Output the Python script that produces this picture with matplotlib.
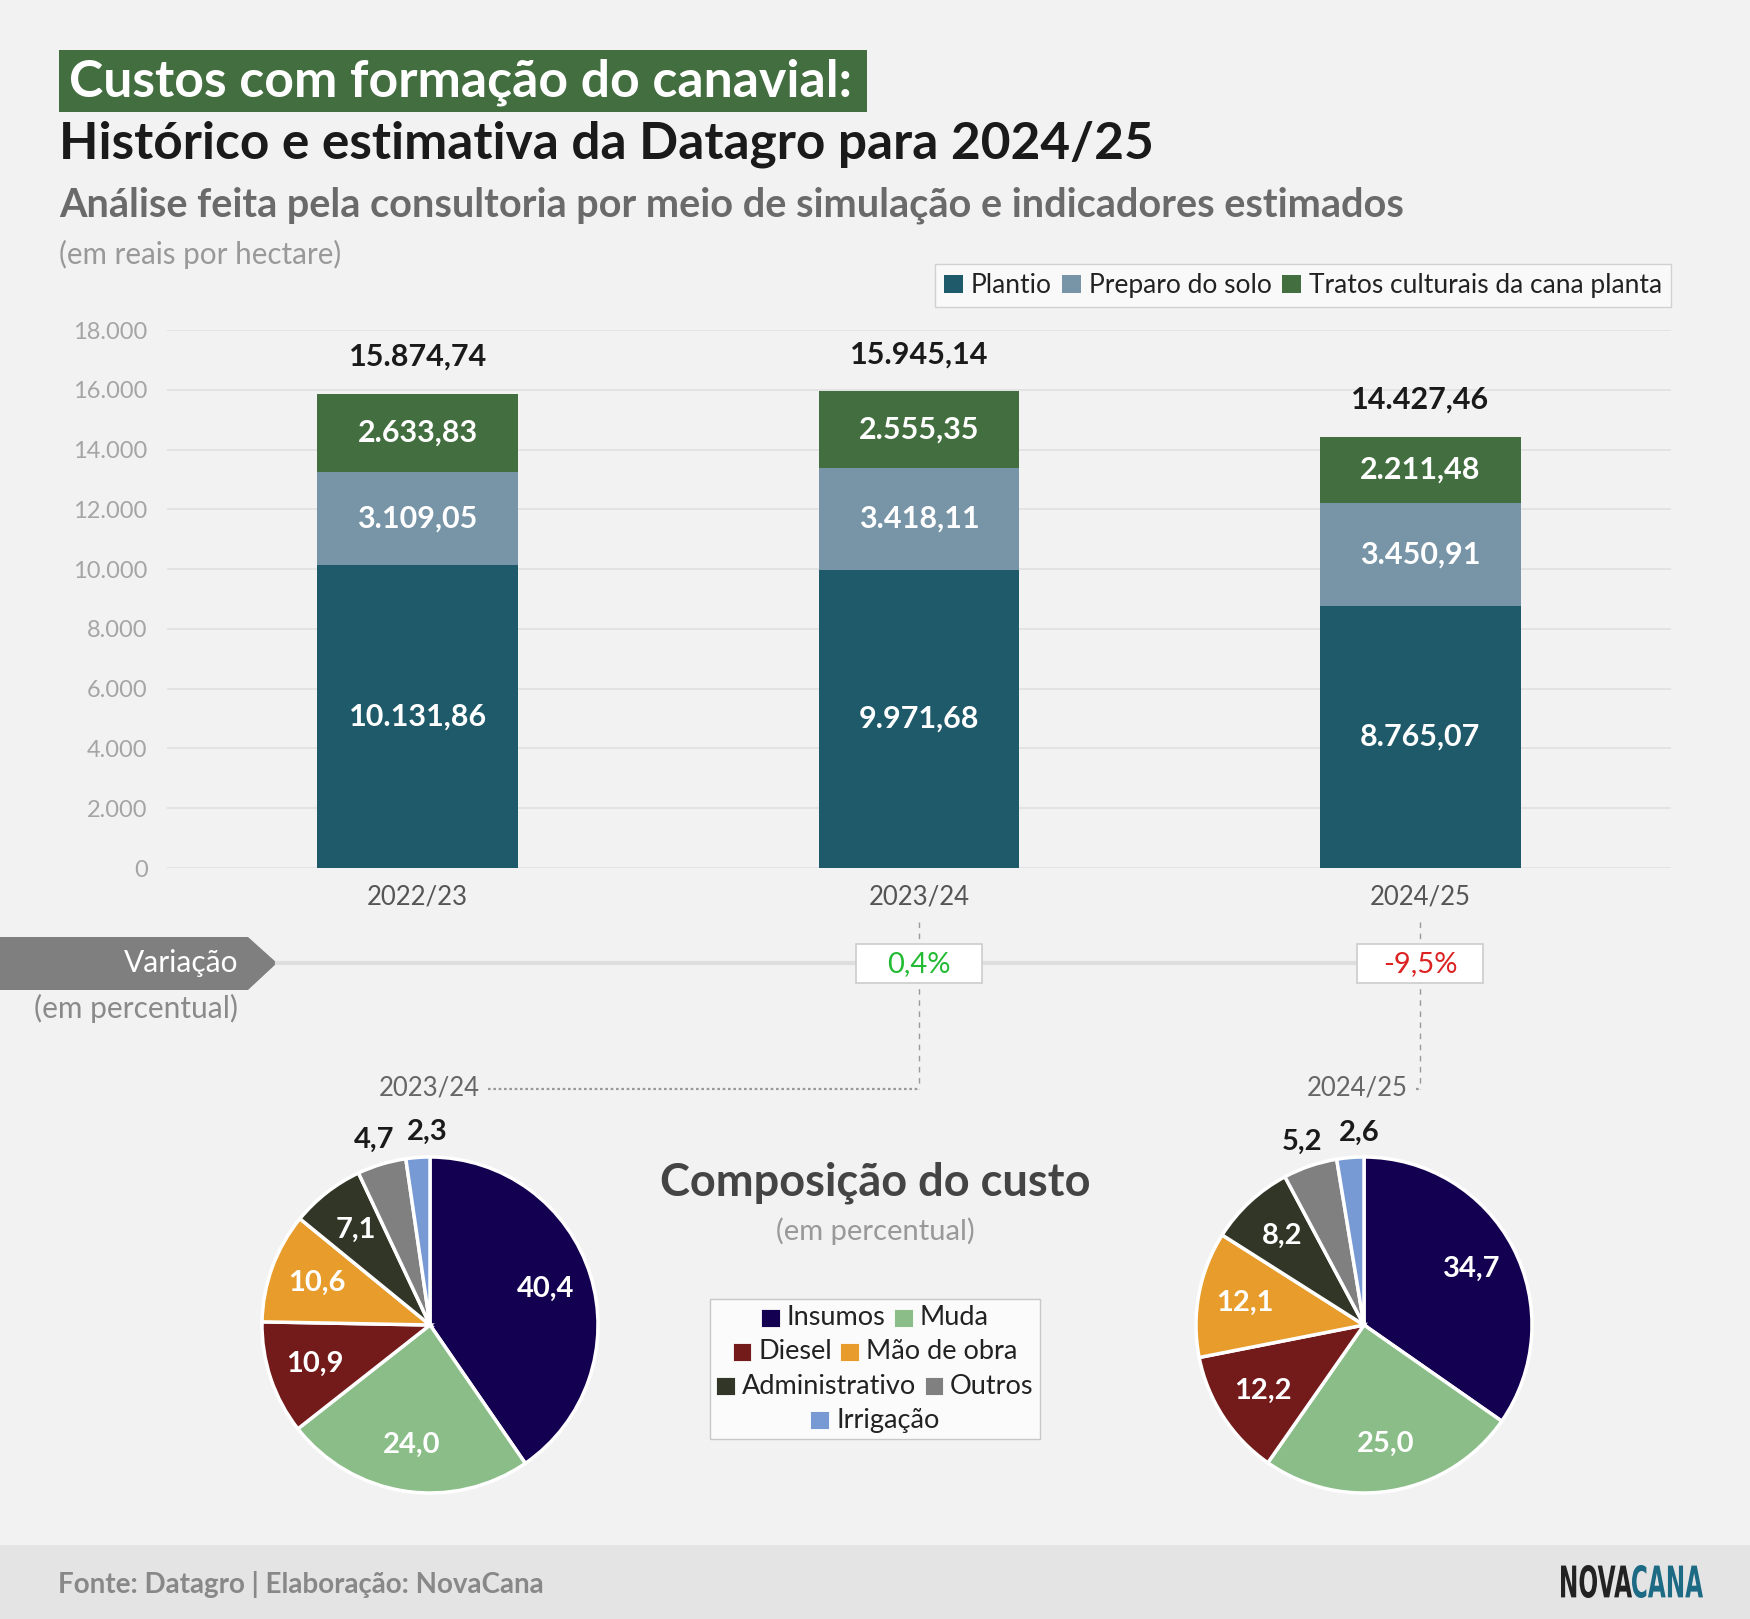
import math
import matplotlib
matplotlib.use("Agg")
import matplotlib.pyplot as plt
from matplotlib.patches import Rectangle, Polygon, PathPatch
from matplotlib.offsetbox import AnchoredOffsetbox, DrawingArea, HPacker, VPacker, TextArea
from matplotlib.textpath import TextPath
from matplotlib.font_manager import FontProperties
from matplotlib.transforms import Affine2D, IdentityTransform

plt.rcParams["font.family"] = ["Lato", "DejaVu Sans"]

W, H = 1750, 1619
BG = "#f2f2f2"

# --- dados: custos por hectare (R$) ---
SAFRAS = ["2022/23", "2023/24", "2024/25"]
PLANTIO = [10131.86, 9971.68, 8765.07]
PREPARO = [3109.05, 3418.11, 3450.91]
TRATOS = [2633.83, 2555.35, 2211.48]
TOTAIS = [15874.74, 15945.14, 14427.46]
VARIACAO = [None, 0.4, -9.5]
SERIES = ["Plantio", "Preparo do solo", "Tratos culturais da cana planta"]
SERIES_CORES = ["#1e5a6a", "#7895a8", "#436e3f"]
YTICKS = [0, 2000, 4000, 6000, 8000, 10000, 12000, 14000, 16000, 18000]

# --- composição do custo (%) ---
COMPONENTES = ["Insumos", "Muda", "Diesel", "Mão de obra", "Administrativo", "Outros", "Irrigação"]
COMP_CORES = ["#140050", "#8abd88", "#731a1a", "#e89c2c", "#323627", "#808080", "#7799d4"]
COMP_2324 = [40.4, 24.0, 10.9, 10.6, 7.1, 4.7, 2.3]
COMP_2425 = [34.7, 25.0, 12.2, 12.1, 8.2, 5.2, 2.6]


def br(v, nd=2):
    s = f"{v:,.{nd}f}"
    return s.replace(",", "X").replace(".", ",").replace("X", ".")


def fx(x):
    return x / W


def fy(y):
    return 1 - y / H


fig = plt.figure(figsize=(W / 100, H / 100), dpi=100, facecolor=BG)


def T(x, y, s, **kw):
    return fig.text(fx(x), fy(y), s, **kw)


# títulos
fig.add_artist(Rectangle((fx(59), fy(112)), fx(867 - 59), (112 - 50) / H,
                         transform=fig.transFigure, facecolor="#436e3f", edgecolor="none"))
T(69, 97, "Custos com formação do canavial:", fontsize=37.3, fontweight="bold",
  color="white", va="baseline")
T(59, 158, "Histórico e estimativa da Datagro para 2024/25", fontsize=37,
  fontweight="bold", color="#1a1a1a", va="baseline")
T(59, 217, "Análise feita pela consultoria por meio de simulação e indicadores estimados",
  fontsize=28.5, fontweight="bold", color="#6a6a6a", va="baseline")
T(59, 264, "(em reais por hectare)", fontsize=21.3, color="#999999", va="baseline")

# barras empilhadas
ax = fig.add_axes([fx(167), fy(868), fx(1671 - 167), (868 - 330) / H])
ax.set_facecolor("none")
x = list(range(len(SAFRAS)))
bottom2 = [a + b for a, b in zip(PLANTIO, PREPARO)]
layers = [(PLANTIO, [0, 0, 0]), (PREPARO, PLANTIO), (TRATOS, bottom2)]
for (vals, base), nome, cor in zip(layers, SERIES, SERIES_CORES):
    ax.bar(x, vals, bottom=base, width=0.4, color=cor, label=nome, zorder=3)
    for xi, v, b in zip(x, vals, base):
        ax.text(xi, b + v / 2, br(v), ha="center", va="center", color="white",
                fontsize=22, fontweight="bold", zorder=4)
for xi, tot in zip(x, TOTAIS):
    ax.annotate(br(tot), (xi, tot), xytext=(0, 37), textcoords="offset pixels",
                ha="center", va="center", fontsize=22, fontweight="bold", color="#1a1a1a")
ax.set_xlim(-0.5, 2.5)
ax.set_ylim(0, 18000)
ax.set_yticks(YTICKS)
ax.set_yticklabels([br(t, 0) for t in YTICKS])
ax.set_xticks(x)
ax.set_xticklabels(SAFRAS)
ax.grid(axis="y", color="#e0e0e0", lw=1.2, zorder=0)
for s in ax.spines.values():
    s.set_visible(False)
ax.tick_params(axis="y", length=0, labelsize=17, labelcolor="#a5a5a5", pad=14)
ax.tick_params(axis="x", length=0, labelsize=18.5, labelcolor="#555555", pad=12)

leg = ax.legend(ncol=3, loc="upper right", bbox_to_anchor=(fx(1671), fy(264)),
                bbox_transform=fig.transFigure, fontsize=19, frameon=True, fancybox=False,
                handlelength=0.7, handleheight=0.7, handletextpad=0.3, columnspacing=0.4,
                borderpad=0.35, borderaxespad=0)
leg.get_frame().set_facecolor("#fbfbfb")
leg.get_frame().set_edgecolor("#c8c8c8")
for t in leg.get_texts():
    t.set_color("#222222")

# faixa de variação
fig.add_artist(Polygon([(fx(0), fy(937)), (fx(248), fy(937)), (fx(277), fy(963)),
                        (fx(248), fy(990)), (fx(0), fy(990))], closed=True,
                       transform=fig.transFigure, facecolor="#7f7f7f", edgecolor="none"))
fig.add_artist(plt.Line2D([fx(277), fx(1480)], [fy(963), fy(963)], transform=fig.transFigure,
                          color="#dedede", lw=3, zorder=1))
T(238, 963, "Variação", fontsize=21.5, color="white", ha="right", va="center")
T(238, 1008, "(em percentual)", fontsize=21.5, color="#8a8a8a", ha="right", va="center")

label_right = {1: 480, 2: 1408}
for i, v in enumerate(VARIACAO):
    if v is None:
        continue
    xp = 167 + ax.transData.transform((i, 0))[0] - ax.transData.transform((-0.5, 0))[0]
    xc = xp / W
    fig.add_artist(plt.Line2D([xc, xc], [fy(922), fy(1089)], transform=fig.transFigure,
                              color="#9a9a9a", lw=1, ls=(0, (4, 4)), zorder=1))
    fig.add_artist(plt.Line2D([fx(label_right[i] + 8), xc], [fy(1089), fy(1089)],
                              transform=fig.transFigure, color="#9a9a9a", lw=1.6,
                              ls=(0, (1.2, 1.2)), zorder=1))
    fig.add_artist(Rectangle((fx(xp - 63), fy(983)), 126 / W, 39 / H,
                             transform=fig.transFigure, facecolor="white",
                             edgecolor="#cccccc", lw=1.2, zorder=3))
    T(xp, 964, br(v, 1) + "%", fontsize=21, ha="center", va="center", zorder=4,
      color="#22bb33" if v > 0 else "#dd2222")
    T(label_right[i], 1088, SAFRAS[i], fontsize=18.5, color="#666666", ha="right", va="center")

# pizzas
R = 168
SC = 1.35


def pizza(cx, cy, vals):
    a = fig.add_axes([fx(cx - R * SC), fy(cy + R * SC), 2 * R * SC / W, 2 * R * SC / H])
    a.axis("off")
    a.pie(vals, colors=COMP_CORES, startangle=90, counterclock=False, radius=1,
          wedgeprops=dict(edgecolor="white", linewidth=2.5))
    a.set_xlim(-SC, SC)
    a.set_ylim(-SC, SC)
    cum = 0
    for k, v in enumerate(vals):
        m = (cum + v / 2) / 100
        ang = math.radians(90 - 360 * m)
        fora = v < 6
        r = 1.15 if fora else 0.72
        dx = 0.065 if k == len(vals) - 1 else 0
        a.text(r * math.cos(ang) + dx, r * math.sin(ang), br(v, 1), ha="center", va="center",
               fontsize=21, fontweight="bold", color="#1a1a1a" if fora else "white")
        cum += v


pizza(430, 1325, COMP_2324)
pizza(1364, 1325, COMP_2425)

T(875, 1183, "Composição do custo", fontsize=32.5, fontweight="bold", color="#444444",
  ha="center", va="center")
T(875, 1231, "(em percentual)", fontsize=21, color="#999999", ha="center", va="center")

# legenda da composição
rows = [[0, 1], [2, 3], [4, 5], [6]]
row_boxes = []
for r in rows:
    items = []
    for k in r:
        da = DrawingArea(13.5, 13.5, 0, 0)
        da.add_artist(Rectangle((0, 0), 13.5, 13.5, facecolor=COMP_CORES[k],
                                edgecolor="white", lw=0.6))
        ta = TextArea(COMPONENTES[k], textprops=dict(fontsize=19.5, color="#222222"))
        items.append(HPacker(children=[da, ta], align="center", pad=0, sep=5))
    row_boxes.append(HPacker(children=items, align="center", pad=0, sep=6))
vp = VPacker(children=row_boxes, align="center", pad=0, sep=6.5)
box = AnchoredOffsetbox(loc="center", child=vp, pad=0.45, frameon=True,
                        bbox_to_anchor=(fx(875), fy(1369)), bbox_transform=fig.transFigure,
                        borderpad=0)
box.patch.set_facecolor("#fbfbfb")
box.patch.set_edgecolor("#c8c8c8")
box.patch.set_boxstyle("square", pad=0)
fig.add_artist(box)

# rodapé
fig.add_artist(Rectangle((0, 0), 1, (H - 1545) / H, transform=fig.transFigure,
                         facecolor="#e4e4e4", edgecolor="none"))
T(58, 1584, "Fonte: Datagro | Elaboração: NovaCana", fontsize=20, fontweight="bold",
  color="#888888", va="center")

# logo NOVACANA (texto comprimido)
fp = FontProperties(family=["Liberation Sans Narrow", "DejaVu Sans"], weight="bold")
for word, x0, col in [("NOVA", 1561, "#222222"), ("CANA", 1632, "#1d6a85")]:
    tp = TextPath((0, 0), word, size=100, prop=fp)
    ext = tp.get_extents()
    sx = 71 / ext.width
    sy = 33 / ext.height
    tr = Affine2D().translate(-ext.x0, -ext.y0).scale(sx, sy).translate(x0, H - 1598)
    fig.add_artist(PathPatch(tr.transform_path(tp), facecolor=col, edgecolor="none",
                             transform=IdentityTransform()))

fig.savefig("out.png", dpi=100, facecolor=BG)
